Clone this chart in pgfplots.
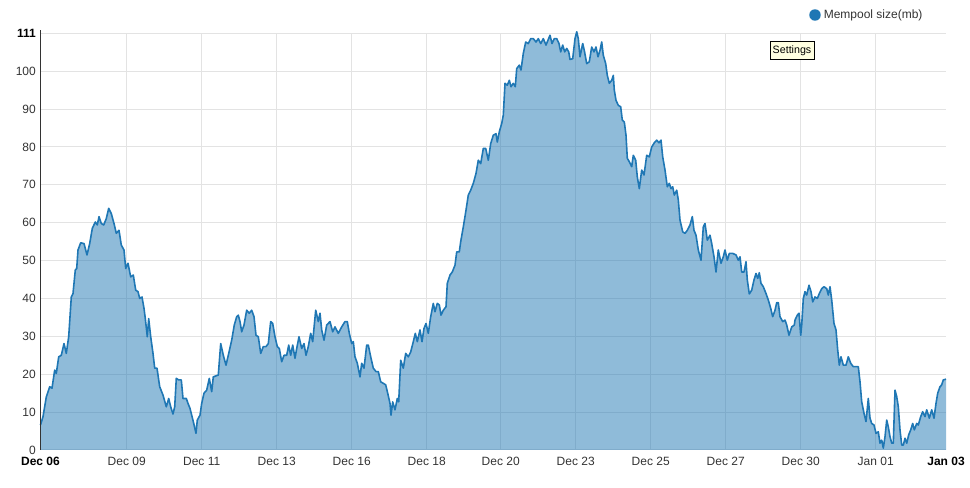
\documentclass[border=0pt]{standalone}
\usepackage{pgfplots}
\pgfplotsset{compat=1.18}
\usepackage{fontspec}
\setmainfont{Liberation Sans}
\definecolor{serie}{HTML}{1F77B4}
\definecolor{gridc}{HTML}{E3E3E3}
\definecolor{lab}{HTML}{333333}
\definecolor{tip}{HTML}{FFFFE1}
\begin{document}
\begin{tikzpicture}[x=0.75pt,y=0.75pt]
\useasboundingbox (0,0) rectangle (970,488);
\begin{axis}[
  at={(30.375pt,28.5pt)}, anchor=south west,
  scale only axis, width=679.125pt, height=312.5pt,
  xmin=40.5, xmax=946, ymin=0, ymax=110,
  clip=false,
  axis line style={draw=none},
  major tick length=0pt,
  xtick={126.7,201.7,276.7,351.7,426.7,500.7,575.7,650.7,725.7,800.7,875.7},
  xticklabels={Dec 09,Dec 11,Dec 13,Dec 16,Dec 18,Dec 20,Dec 23,Dec 25,Dec 27,Dec 30,Jan 01},
  extra x ticks={40.5,946},
  extra x tick labels={\textbf{Dec 06},\textbf{Jan 03}},
  extra x tick style={grid=none, tick label style={text=black}},
  ytick={0,10,20,30,40,50,60,70,80,90,100,110},
  yticklabels={0,10,20,30,40,50,60,70,80,90,100,\textcolor{black}{\textbf{111}}},
  grid=major, grid style={gridc, line width=0.75pt},
  tick label style={font=\fontsize{9}{11}\selectfont, text=lab},
  xticklabel style={yshift=-2pt},
]
\pgfplotstableread{
x y
40.5 6.6
43 8.8
46.3 14
49.7 16.7
52 16.3
54.7 21.1
56.3 20.2
58.7 24.6
61.3 25
64 28.1
66.3 25.5
68.7 29.9
71.3 40.4
73 41.3
75.3 47.5
76.7 47.9
78 52.8
80.7 54.7
84 54.5
87 51.5
89.7 54.5
92.3 58.5
95.3 60.2
97.3 59.4
99 61.6
101.3 59.8
103.7 59.4
106.3 61.1
108.7 63.8
111.3 62.4
114 59.8
116.3 57.2
119 58
121.3 54.1
124 52.8
125.7 47.9
128 49.3
130.7 45.7
133.3 46.2
135.7 42.2
138 41.8
139.7 40
142 40.4
144 37.4
145.3 34.7
147.3 29.9
148.7 34.7
150.7 29.9
153 25.5
154.7 21.6
157 21.6
159.7 16.7
163 14.5
166.3 11.4
168.7 13.6
170.7 11.4
173 9.5
174.7 11.4
176.3 18.9
178.7 18.5
181.3 18.5
183 13.6
186.3 13.6
188 12.3
190 11
193.3 7.5
196 4.4
197.3 7.9
200 9.2
201.7 12.3
204 15
206.7 15.8
209.3 18.9
211.7 15.4
213.3 19.3
218.3 19.8
220.7 28.1
223.3 25
226 22.4
228.3 25
231.7 29
234.3 33
236.7 35.2
238.3 35.6
240 33.9
241.7 31.2
244 33
246.7 36.9
249.3 36.1
251.7 36.9
254 35.2
256 30.3
258.3 29.9
260.7 25.5
263.3 27.3
266 27.3
268.3 28.1
270.7 33.9
272.7 33.4
275 29.9
277.3 27.3
279.3 26.8
281.7 23.3
284 25
286.7 25
288.7 27.7
290.7 25
292.7 27.7
295 24.2
296.7 26.8
299 29.9
301.7 26.8
304 28.1
306 25
308.3 27.3
310.7 30.8
312.7 28.6
315.7 36.9
318.3 33.9
320 36.1
321.7 31.7
324 29
326.7 33
330 33.9
332.7 31.2
335 32.5
338.3 30.8
341.7 32.5
345 33.9
347.3 33.9
349.3 30.8
351.7 28.1
353.3 28.6
355 24.6
357.3 22.9
360 19.3
361.7 22.9
364 21.6
366.7 27.7
368.3 27.7
370.7 24.6
373.3 21.6
376 20.7
378.3 20.7
380.7 18
383.3 17.6
385.7 17.2
387.7 15
390 12.3
391 9.2
392.7 12.7
395 10.6
397.3 13.6
398.7 12.7
400.7 23.7
403.3 21.6
405.7 25.5
408.3 24.6
410.7 25.9
413.3 28.6
415.3 30.8
417.3 28.6
420 31.7
422 28.6
424 32.1
426 33.4
428.3 30.8
430.7 35.2
433.3 38.7
435 36.5
437.3 38.7
439.3 38.3
441 35.6
443.3 36.9
446 37.8
447.3 44
450 46.2
452.3 47
455 48.8
456.7 52.3
459.3 52.3
460.7 55
463.3 58.9
466 63.3
468.3 67.3
470.7 68.6
473.3 70.4
476 73
478.3 76.5
480.7 75.6
483.3 79.6
485.7 79.6
488.3 76.5
490.7 80.9
493.3 83.1
496 83.5
497.3 81.3
499.3 84
501.7 86.2
503.3 88.4
505 96.8
507.3 96.3
509.3 97.6
511 95.9
513.3 96.8
515.3 95.9
516.7 100.7
519.3 101.6
521 100.3
523.3 104.7
525.7 107.7
528.3 107.3
530.7 108.6
533.3 108.6
536 107.7
538.3 108.6
540.7 107.3
543.3 108.6
546 106.9
550 109.5
552 107.3
554.3 108.6
556.7 108.6
559 107.3
560.7 105.1
562.7 106.9
564.7 105.1
566.7 106
568.7 105.1
570 103.1
572.7 103.3
575 108.6
576.7 110.4
578.3 108.6
580 103.8
582.7 107.3
584.3 105.5
586.7 102
589.3 102.5
591.7 106.4
594 105.1
596 106.4
598 103.8
600 105.5
601.7 107.7
603.3 104.2
605.7 102
607.3 98.9
609.3 96.8
611.7 97.6
613.3 98.9
614.3 95
616 92.3
618.3 91
620.7 90.6
622.3 87.1
624.3 86.6
626 83.1
627.3 77
629.3 76.1
631.7 74.8
633.3 77.8
635.7 76.5
637.3 72.1
639.3 69
641.7 73.9
644 72.6
646.7 77.8
649.3 77.4
651.7 80
654.3 81.1
656.7 81.8
659 81.1
661 81.8
662.7 77.4
665 73.9
667.3 69.5
669.3 70.4
671 69
672.7 69.5
674.3 67.3
676.7 68.6
678.3 66
680 60.7
682.7 57.6
685 57.2
687.3 58
690 59.4
692.3 61.6
694 58
696 56.7
698.3 52.8
701 50.1
703.3 58.9
705 59.8
707.3 55.4
710 56.7
711.7 54.5
714 51
716 47
718.3 52.8
721 49.3
723.3 51
725 52.8
727.3 50.1
729.3 51.9
732.7 51.9
736 51.5
738.3 50.1
740 51
741.7 47
744 47
746 49.7
747.3 44.9
749.3 41.2
751.7 42.2
754 44.9
756 46.6
757.7 45.3
759.3 46.8
761 44
763.3 43.1
766 41.3
768.3 39.6
770.7 37.4
772.7 35.2
775 36.9
776.7 38.9
778.3 38.9
780 35.2
782.7 33.9
785 34.3
786.7 33
789 30.3
791.7 32.5
794.3 33
795 34.3
797.3 35.6
799 36.1
800.7 30.3
801.7 33
803.3 40
805 41.8
806.7 40.9
809 43.5
811 41.8
812.7 39.1
815 40.4
817.3 40
819.3 41.3
821.7 42.6
824 43.1
826.7 42.6
828.3 40.9
830 43.1
831.7 39.6
834 33.4
836 31.7
837.7 26.4
839.3 22.4
841 24.6
843.3 22.4
846 22.4
848.3 24.6
850.7 22.9
853.3 22
858.3 22
860 18
861.7 12.7
864 9.7
866 7.5
868.3 13.6
870 8.4
871.7 7
874 6.6
876 4.4
878.3 4.8
880 1.8
881.7 2.6
883.3 0.5
885 3.5
886.7 7.9
888.3 6.1
890 3.5
891.7 1.8
893.3 1.8
895 15.8
896.7 14.1
898.3 11.4
900 5.3
901.7 1.3
903.3 1.3
905 3.1
906.7 1.8
908.7 4
910.7 5.3
912.7 7
914.3 5.3
916.7 7
918.3 6.6
920.7 8.8
922.7 10.1
925 8.8
926.7 10.6
929.3 8.4
931.7 10.6
934 8.4
936 12.3
937.7 15
940 16.7
941.7 17.2
943.3 18.5
946 18.7
}\mempool
\addplot[draw=none, fill=serie, fill opacity=0.5] table {\mempool} \closedcycle;
\addplot[serie, line width=1.2pt, line join=round] table {\mempool};
\draw[lab, line width=0.9pt] (axis cs:40.5,0) -- (axis cs:40.5,110.8);
\end{axis}
\fill[serie] (815,473) circle (4.3pt);
\node[anchor=west, inner sep=0pt, font=\fontsize{9}{11}\selectfont, text=lab] at (823.5,473) {Mempool size(mb)};
\node[draw=black, fill=tip, line width=0.6pt, inner sep=0pt, minimum width=33pt, minimum height=13.5pt, font=\fontsize{8}{10}\selectfont] at (792,437.7) {Settings};
\end{tikzpicture}
\end{document}
